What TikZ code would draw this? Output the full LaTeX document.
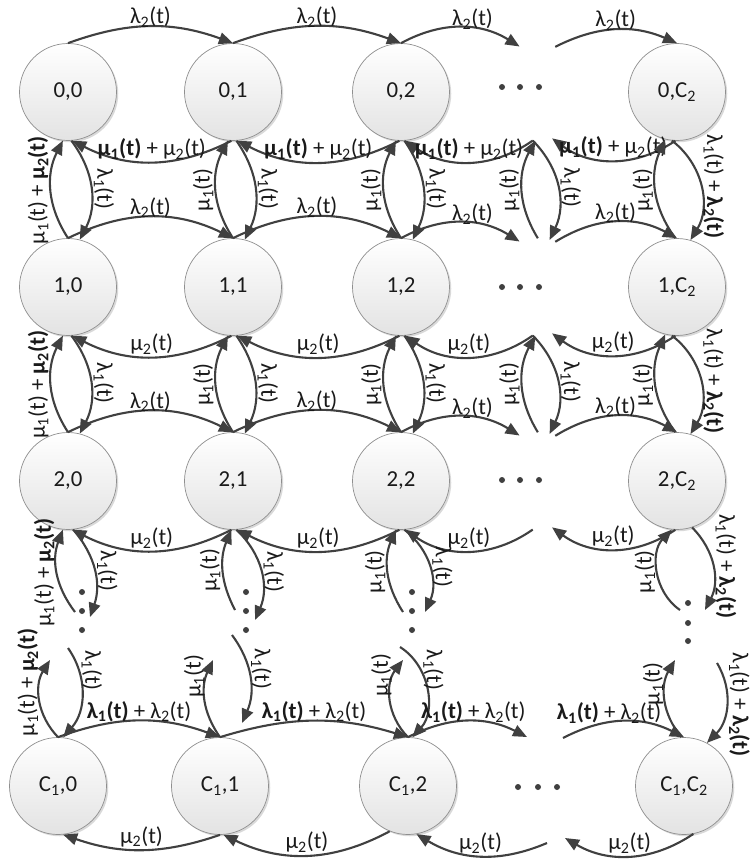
\documentclass[tikz,border=0pt]{standalone}
\usepackage{fontspec}
\setmainfont{Carlito}
\usetikzlibrary{arrows.meta,shadows}
\definecolor{arrowgray}{HTML}{404040}
\definecolor{rimgray}{HTML}{8F8F8F}
\definecolor{inkgray}{HTML}{1A1A1A}
\newcommand{\lblfont}{\fontsize{19.5}{23}\selectfont}
\newcommand{\lamone}{λ\textsubscript{1}(t)}
\newcommand{\lamtwo}{λ\textsubscript{2}(t)}
\newcommand{\muone}{μ\textsubscript{1}(t)}
\newcommand{\mutwo}{μ\textsubscript{2}(t)}

\begin{document}
\begin{tikzpicture}[x=0.03cm, y=0.03cm,
    state/.style = {circle, draw=rimgray, line width=0.6pt, minimum size=2.91cm, inner sep=0pt, top color=white, bottom color=black!11, drop shadow={shadow xshift=1.5pt, shadow yshift=-1.5pt, fill=black, opacity=0.15}, font=\lblfont, text=inkgray},
    phantomstate/.style = {circle, minimum size=2.91cm, inner sep=0pt},
    flow/.style = {->, line width=1.8pt, draw=arrowgray},
    lbl/.style = {font=\lblfont, text=inkgray, inner sep=1.5pt},
    toplbl/.style = {lbl, above, yshift=-3pt},
    uplbl/.style = {lbl, rotate=90, anchor=south},
    downlbl/.style = {lbl, rotate=-90, anchor=south},
    >={Triangle[length=12pt, width=10pt]}]
    \useasboundingbox (0,0) rectangle (751,-866);

    \node[state] (n00) at (68,-92) {0,0};
    \node[state] (n01) at (233,-92) {0,1};
    \node[state] (n02) at (401,-92) {0,2};
    \node[state] (n0C) at (677,-92) {0,C\textsubscript{2}};
    \node[state] (n10) at (68,-287) {1,0};
    \node[state] (n11) at (233,-287) {1,1};
    \node[state] (n12) at (401,-287) {1,2};
    \node[state] (n1C) at (677,-287) {1,C\textsubscript{2}};
    \node[state] (n20) at (68,-481) {2,0};
    \node[state] (n21) at (233,-481) {2,1};
    \node[state] (n22) at (401,-481) {2,2};
    \node[state] (n2C) at (677,-481) {2,C\textsubscript{2}};
    \node[state] (nC0) at (58,-786) {C\textsubscript{1},0};
    \node[state] (nC1) at (220,-786) {C\textsubscript{1},1};
    \node[state] (nC2) at (408,-786) {C\textsubscript{1},2};
    \node[state] (nCC) at (684,-786) {C\textsubscript{1},C\textsubscript{2}};
    \node[phantomstate] (d0) at (537,-92) {};
    \node[phantomstate] (d1) at (537,-287) {};
    \node[phantomstate] (d2) at (537,-481) {};
    \coordinate (a0) at (75,-612);
    \coordinate (b0) at (90,-617);
    \coordinate (c0) at (50,-660);
    \coordinate (e0) at (68,-648);
    \coordinate (a1) at (235,-610);
    \coordinate (b1) at (255,-620);
    \coordinate (c1) at (213,-660);
    \coordinate (e1) at (232,-635);
    \coordinate (g1) at (242,-723);
    \coordinate (a2) at (403,-612);
    \coordinate (b2) at (425,-612);
    \coordinate (c2) at (403,-660);
    \coordinate (e2) at (400,-647);
    \coordinate (aC) at (680,-610);
    \coordinate (bC) at (705,-610);
    \coordinate (cC) at (675,-660);
    \coordinate (eC) at (717,-663);
    \coordinate (f1) at (527,-737);
    \coordinate (f2) at (563,-738);
    \coordinate (f3) at (547,-843);
    \coordinate (f4) at (565,-838);

    \foreach \y in {-87,-287,-480} {\foreach \x in {502,520,539} {\fill[arrowgray] (\x,\y) circle (3);}}
    \foreach \x in {518,538,557} {\fill[arrowgray] (\x,-787) circle (3);}
    \foreach \x in {82,246,412} {\foreach \y in {-592,-611,-630} {\fill[arrowgray] (\x,\y) circle (3);}}
    \foreach \y in {-603,-623,-641} {\fill[arrowgray] (688,\y) circle (3);}

    \draw[flow] (n00.north) to[bend left=20] node[toplbl] {\lamtwo} (n01.north);
    \draw[flow] (n01.north) to[bend left=20] node[toplbl] {\lamtwo} (n02.north);
    \draw[flow] (n02.north) to[bend left=30] node[toplbl, pos=0.6] {\lamtwo} (d0.111);
    \draw[flow] (d0.68) to[bend left=25] node[toplbl] {\lamtwo} (n0C.north);
    \draw[flow] (n01.-92) to[bend left=27] node[lbl, above] {\textbf{\muone} + \mutwo} (n00.-85);
    \draw[flow] (n02.-92) to[bend left=27] node[lbl, above] {\textbf{\muone} + \mutwo} (n01.-85);
    \draw[flow] (d0.-95) to[bend left=35] node[lbl, above] {\textbf{\muone} + \mutwo} (n02.-85);
    \draw[flow] (n0C.-92) to[bend left=35] node[lbl, above] {\textbf{\muone} + \mutwo} (d0.-72);

    \draw[flow] (n10.90) to[bend left=30] node[uplbl] {\muone{} + \textbf{\mutwo}} (n00.-96);
    \draw[flow] (n00.-86) to[bend left=32] node[downlbl] {\lamone} (n10.76);
    \draw[flow] (n11.90) to[bend left=30] node[uplbl] {\muone} (n01.-96);
    \draw[flow] (n01.-86) to[bend left=30] node[downlbl] {\lamone} (n11.76);
    \draw[flow] (n12.90) to[bend left=30] node[uplbl] {\muone} (n02.-96);
    \draw[flow] (n02.-86) to[bend left=30] node[downlbl] {\lamone} (n12.76);
    \draw[flow] (d1.89) to[bend left=30] node[uplbl] {\muone} (d0.-92);
    \draw[flow] (d0.-95) to[bend left=35] node[downlbl] {\lamone} (d1.75);
    \draw[flow] (n1C.92) to[bend left=30] node[uplbl] {\muone} (n0C.-104);
    \draw[flow] (n0C.-96) to[bend left=42] node[downlbl] {\lamone{} + \textbf{\lamtwo}} (n1C.74);

    \draw[flow] (n10.north) to[bend left=26] node[toplbl] {\lamtwo} (n11.north);
    \draw[flow] (n11.north) to[bend left=26] node[toplbl] {\lamtwo} (n12.north);
    \draw[flow] (n12.north) to[bend left=30] node[toplbl, pos=0.6] {\lamtwo} (d1.111);
    \draw[flow] (d1.68) to[bend left=30] node[toplbl] {\lamtwo} (n1C.north);
    \draw[flow] (n11.-92) to[bend left=27] node[lbl, above] {\mutwo} (n10.-85);
    \draw[flow] (n12.-92) to[bend left=27] node[lbl, above] {\mutwo} (n11.-85);
    \draw[flow] (d1.-95) to[bend left=35] node[lbl, above] {\mutwo} (n12.-85);
    \draw[flow] (n1C.-92) to[bend left=35] node[lbl, above] {\mutwo} (d1.-72);

    \draw[flow] (n20.90) to[bend left=30] node[uplbl] {\muone{} + \textbf{\mutwo}} (n10.-96);
    \draw[flow] (n10.-86) to[bend left=32] node[downlbl] {\lamone} (n20.76);
    \draw[flow] (n21.90) to[bend left=30] node[uplbl] {\muone} (n11.-96);
    \draw[flow] (n11.-86) to[bend left=30] node[downlbl] {\lamone} (n21.76);
    \draw[flow] (n22.90) to[bend left=30] node[uplbl] {\muone} (n12.-96);
    \draw[flow] (n12.-86) to[bend left=30] node[downlbl] {\lamone} (n22.76);
    \draw[flow] (d2.89) to[bend left=30] node[uplbl] {\muone} (d1.-92);
    \draw[flow] (d1.-95) to[bend left=35] node[downlbl] {\lamone} (d2.75);
    \draw[flow] (n2C.92) to[bend left=30] node[uplbl] {\muone} (n1C.-104);
    \draw[flow] (n1C.-96) to[bend left=42] node[downlbl] {\lamone{} + \textbf{\lamtwo}} (n2C.74);

    \draw[flow] (n20.north) to[bend left=26] node[toplbl] {\lamtwo} (n21.north);
    \draw[flow] (n21.north) to[bend left=26] node[toplbl] {\lamtwo} (n22.north);
    \draw[flow] (n22.north) to[bend left=30] node[toplbl, pos=0.6] {\lamtwo} (d2.111);
    \draw[flow] (d2.68) to[bend left=30] node[toplbl] {\lamtwo} (n2C.north);
    \draw[flow] (n21.-92) to[bend left=27] node[lbl, above] {\mutwo} (n20.-85);
    \draw[flow] (n22.-92) to[bend left=27] node[lbl, above] {\mutwo} (n21.-85);
    \draw[flow] (d2.-95) to[bend left=35] node[lbl, above] {\mutwo} (n22.-85);
    \draw[flow] (n2C.-92) to[bend left=35] node[lbl, above] {\mutwo} (d2.-72);

    \draw[flow] (a0) to[bend left=29] node[uplbl] {\muone{} + \textbf{\mutwo}} (n20.-96);
    \draw[flow] (n20.-84) to[bend left=30] node[downlbl] {\lamone} (b0);
    \draw[flow] (a1) to[bend left=25] node[uplbl] {\muone} (n21.-92);
    \draw[flow] (n21.-86) to[bend left=35] node[downlbl] {\lamone} (b1);
    \draw[flow] (a2) to[bend left=28] node[uplbl] {\muone} (n22.-96);
    \draw[flow] (n22.-86) to[bend left=38] node[downlbl] {\lamone} (b2);
    \draw[flow] (aC) to[bend left=50] node[uplbl] {\muone} (n2C.-96);
    \draw[flow] (n2C.-72) to[bend left=36] node[downlbl] {\lamone{} + \textbf{\lamtwo}} (bC);

    \draw[flow] (nC0.90) to[bend left=38] node[uplbl, pos=0.72] {\muone{} + \textbf{\mutwo}} (c0);
    \draw[flow] (e0) to[bend left=38] node[downlbl, pos=0.25] {\lamone} (nC0.84);
    \draw[flow] (nC1.90) to[bend left=30] node[uplbl, pos=0.8] {\muone} (c1);
    \draw[flow] (e1) to[bend left=30] node[downlbl, pos=0.4] {\lamone} (g1);
    \draw[flow] (nC2.90) to[bend left=41] node[uplbl, pos=0.8] {\muone} (c2);
    \draw[flow] (e2) to[bend left=50] node[downlbl, pos=0.3] {\lamone} (nC2.85);
    \draw[flow] (nCC.93) to[bend left=35] node[uplbl, pos=0.7] {\muone} (cC);
    \draw[flow] (eC) to[bend left=38] node[downlbl] {\lamone{} + \textbf{\lamtwo}} (nCC.62);

    \draw[flow] (nC0.north) to[bend left=20] node[toplbl] {\textbf{\lamone} + \lamtwo} (nC1.north);
    \draw[flow] (nC1.north) to[bend left=17] node[toplbl] {\textbf{\lamone} + \lamtwo} (nC2.north);
    \draw[flow] (nC2.north) to[bend left=27] node[toplbl, pos=0.55] {\textbf{\lamone} + \lamtwo} (f1);
    \draw[flow] (f2) to[bend left=27] node[toplbl, pos=0.38] {\textbf{\lamone} + \lamtwo} (nCC.north);
    \draw[flow] (nC1.south) to[bend left=19] node[lbl, above] {\mutwo} (nC0.-84);
    \draw[flow] (nC2.-112) to[bend left=27] node[lbl, above] {\mutwo} (nC1.-86);
    \draw[flow] (f3) to[bend left=27] node[lbl, above] {\mutwo} (nC2.-80);
    \draw[flow] (nCC.-79) to[bend left=32] node[lbl, above] {\mutwo} (f4);
\end{tikzpicture}
\end{document}
